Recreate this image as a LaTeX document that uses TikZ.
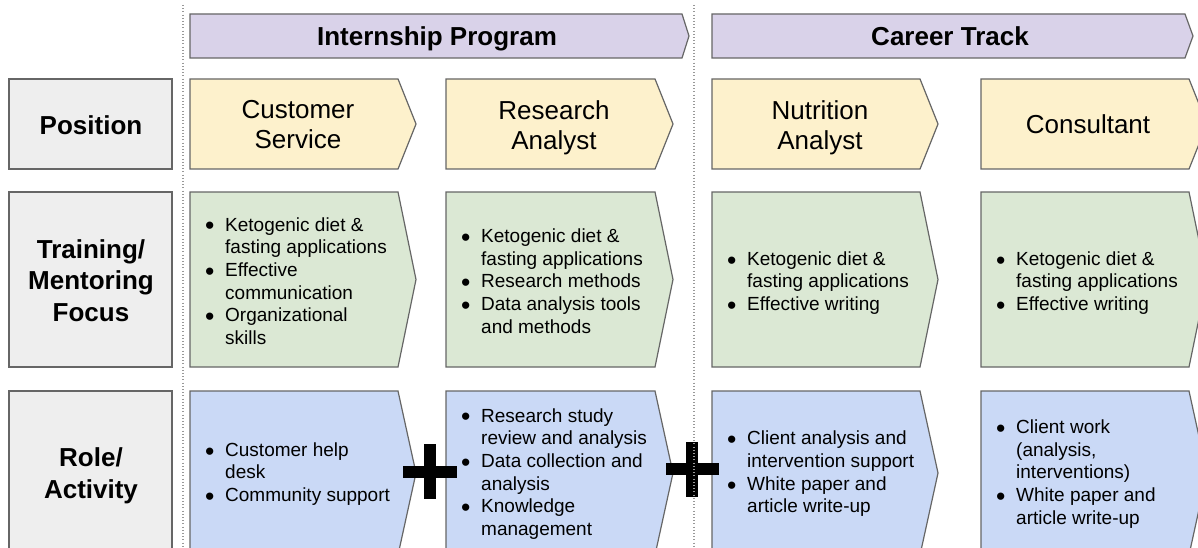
\documentclass[tikz,border=0pt]{standalone}
\usepackage{graphicx}
\usepackage{fontspec}
\setmainfont{Liberation Sans}
\definecolor{bordergray}{HTML}{666666}
\definecolor{lblgray}{HTML}{EEEEEE}
\definecolor{hdrpurple}{HTML}{D9D2E9}
\definecolor{posyellow}{HTML}{FDF1CC}
\definecolor{trngreen}{HTML}{DBE8D4}
\definecolor{roleblue}{HTML}{CAD9F6}
\definecolor{dotgray}{HTML}{999999}
\newcommand{\chevshape}[6]{%
  \filldraw[shapeline,fill=#6] (#1,#2) -- (#3,#2) -- ({#3+#5},{(#2+#4)/2}) -- (#3,#4) -- (#1,#4) -- cycle;}
\newcommand{\bulit}{\makebox[20pt][l]{\smash{\raisebox{-3.8pt}{\scalebox{1.4}{•}}}}}
\newcommand{\bulind}{\hspace*{20pt}}
\begin{document}
\begin{tikzpicture}[x=1pt,y=-1pt,
  shapeline/.style={draw=bordergray,line width=1.2pt,line join=miter},
  evenbox/.style={execute at begin node={\vphantom{Ay}},execute at end node={\vphantom{gy}}},
  lbl/.style={font=\fontsize{26}{31.5}\selectfont\bfseries,align=center,inner sep=0,evenbox},
  hdr/.style={font=\fontsize{26}{30}\selectfont\bfseries,align=center,inner sep=0,anchor=base},
  poslbl/.style={font=\fontsize{26}{30}\selectfont,align=center,inner sep=0,evenbox},
  bul/.style={font=\fontsize{19}{22.7}\selectfont,align=left,anchor=west,inner sep=0,evenbox},
  sep/.style={draw=dotgray,line width=1.2pt,dash pattern=on 1pt off 2.2pt},
  plusbar/.style={fill=black}]
\clip (0,0) rectangle (1198,548);
\fill[white] (0,0) rectangle (1198,548);

% headers
\chevshape{190}{14}{682}{58}{7}{hdrpurple}
\chevshape{712}{14}{1185}{58}{8}{hdrpurple}
\node[hdr] (h1) at (437,45.5) {Internship Program};
\node[hdr] (h2) at (950,45.5) {Career Track};

% left labels
\filldraw[shapeline,fill=lblgray] (9,79) rectangle (172,169);
\filldraw[shapeline,fill=lblgray] (9,192) rectangle (172,367);
\filldraw[shapeline,fill=lblgray] (9,391) rectangle (172,555);
\node[lbl] (l1) at (91,127.5) {Position};
\node[lbl] (l2) at (91,283) {Training/\\Mentoring\\Focus};
\node[lbl] (l3) at (91,476) {Role/\\Activity};

% row 1
\chevshape{190}{79}{398}{169}{18}{posyellow}
\chevshape{446}{79}{655}{169}{18}{posyellow}
\chevshape{712}{79}{920}{169}{18}{posyellow}
\chevshape{981}{79}{1189}{169}{18}{posyellow}
\node[poslbl] (p1) at (298,127.5) {Customer\\Service};
\node[poslbl] (p2) at (554,127.5) {Research\\Analyst};
\node[poslbl] (p3) at (820,127.5) {Nutrition\\Analyst};
\node[poslbl] (p4) at (1088,127) {Consultant};

% row 2
\chevshape{190}{192}{398}{367}{18}{trngreen}
\chevshape{446}{192}{655}{367}{18}{trngreen}
\chevshape{712}{192}{920}{367}{18}{trngreen}
\chevshape{981}{192}{1189}{367}{18}{trngreen}
\node[bul] (t1) at (205,283) {\bulit Ketogenic diet \&\\\bulind fasting applications\\\bulit Effective\\\bulind communication\\\bulit Organizational\\\bulind skills};
\node[bul] (t2) at (461,283) {\bulit Ketogenic diet \&\\\bulind fasting applications\\\bulit Research methods\\\bulit Data analysis tools\\\bulind and methods};
\node[bul] (t3) at (727,283) {\bulit Ketogenic diet \&\\\bulind fasting applications\\\bulit Effective writing};
\node[bul] (t4) at (996,283) {\bulit Ketogenic diet \&\\\bulind fasting applications\\\bulit Effective writing};

% row 3
\chevshape{190}{391}{398}{555}{18}{roleblue}
\chevshape{446}{391}{655}{555}{18}{roleblue}
\chevshape{712}{391}{920}{555}{18}{roleblue}
\chevshape{981}{391}{1189}{555}{18}{roleblue}
\node[bul] (r1) at (205,474) {\bulit Customer help\\\bulind desk\\\bulit Community support};
\node[bul] (r2) at (461,474) {\bulit Research study\\\bulind review and analysis\\\bulit Data collection and\\\bulind analysis\\\bulit Knowledge\\\bulind management};
\node[bul] (r3) at (727,474) {\bulit Client analysis and\\\bulind intervention support\\\bulit White paper and\\\bulind article write-up};
\node[bul] (r4) at (996,474) {\bulit Client work\\\bulind (analysis,\\\bulind interventions)\\\bulit White paper and\\\bulind article write-up};

% plus signs
\fill[plusbar] (403,466) rectangle (457,478);
\fill[plusbar] (424,444) rectangle (436,499);
\fill[plusbar] (666,463) rectangle (719,475);
\fill[plusbar] (686,442) rectangle (698,497);

% dotted separators
\coordinate (s1a) at (183,5);
\coordinate (s1b) at (183,548);
\coordinate (s2a) at (694,5);
\coordinate (s2b) at (694,548);
\draw[sep] (s1a) -- (s1b);
\draw[sep] (s2a) -- (s2b);
\end{tikzpicture}
\end{document}
